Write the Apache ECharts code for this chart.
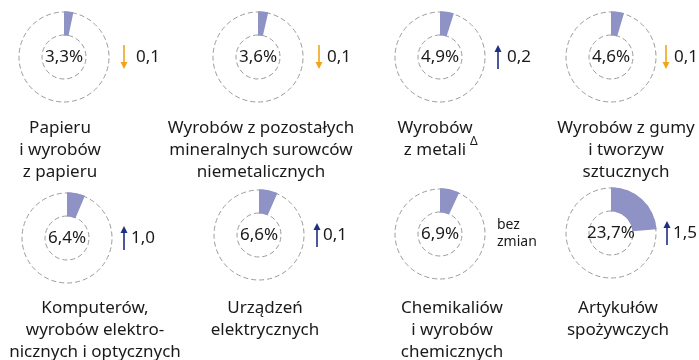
<!DOCTYPE html>
<html>
<head>
<meta charset="utf-8">
<script src="https://cdn.jsdelivr.net/npm/echarts@6/dist/echarts.min.js"></script>
<style>
  html, body { margin: 0; padding: 0; background: #ffffff; }
  #chart { width: 699px; height: 360px; }
</style>
</head>
<body>
<div id="chart"></div>
<script>
// Industry groups and their share (%) with the change in percentage points
const categories = [
  'Papieru\ni wyrobów\nz papieru',
  'Wyrobów z pozostałych\nmineralnych surowców\nniemetalicznych',
  'Wyrobów\nz metali',
  'Wyrobów z gumy\ni tworzyw\nsztucznych',
  'Komputerów,\nwyrobów elektro-\nnicznych i optycznych',
  'Urządzeń\nelektrycznych',
  'Chemikaliów\ni wyrobów\nchemicznych',
  'Artykułów\nspożywczych'
];
const shares = [3.3, 3.6, 4.9, 4.6, 6.4, 6.6, 6.9, 23.7];
const changes = [-0.1, -0.1, 0.2, -0.1, 1.0, 0.1, 0, 1.5];
const footnotes = ['', '', 'Δ', '', '', '', '', ''];
const noChangeText = 'bez\nzmian';

// Layout of the small multiples (pixels)
const donutCenters = [[64, 57], [258, 57], [440, 57], [611, 57], [67, 238], [259, 235], [440, 234], [611, 233]];
const captionX = [60, 261, 435, 626, 95, 265, 452, 618];
const captionTop = [117, 117, 117, 117, 297, 297, 297, 297];
const arrowX = [124, 319, 498, 666, 124, 317, 497, 667];
const changeTextX = [136, 327, 507, 674, 131, 323, 497, 673];

const FONT = '"Noto Sans", "Open Sans", sans-serif';
const TEXT = '#1a1a1a';
const SECTOR = '#8e92c4';
const RING = '#9c9c9c';
const UP = '#1d2f80';
const DOWN = '#f2a516';
const RING_RADIUS = [22, 45];
// the sector slightly overlaps the dashed outlines so its edges stay clean
const SECTOR_RADIUS = [21.5, 45.8];

const fmt = (v) => v.toFixed(1).replace('.', ',');

const series = [];
const graphics = [];

shares.forEach((v, i) => {
  const c = donutCenters[i];
  // dashed outline of the ring (outer and inner circle), kept beneath the sector
  series.push({
    type: 'pie', silent: true, z: 1, center: c, radius: RING_RADIUS, startAngle: 90,
    label: { show: false }, labelLine: { show: false },
    emphasis: { disabled: true },
    data: [{ value: 1, itemStyle: { color: 'rgba(0,0,0,0)', borderColor: RING, borderWidth: 1, borderType: [5, 3] } }]
  });
  // share sector starting at 12 o'clock
  series.push({
    type: 'pie', silent: true, z: 5, center: c, radius: SECTOR_RADIUS, startAngle: 90, clockwise: true,
    avoidLabelOverlap: false, labelLine: { show: false },
    emphasis: { disabled: true },
    itemStyle: { borderWidth: 0 },
    data: [
      { value: v, itemStyle: { color: SECTOR, borderWidth: 0 },
        label: { show: true, position: 'center', formatter: fmt(v) + '%', fontSize: 17, fontFamily: FONT, color: TEXT } },
      { value: 100 - v, itemStyle: { color: 'rgba(0,0,0,0)', borderWidth: 0 }, label: { show: false } }
    ]
  });

  // caption under the donut
  graphics.push({
    type: 'text', x: captionX[i], y: captionTop[i], silent: true,
    style: { text: categories[i], font: '17px ' + FONT, fill: TEXT, align: 'center', verticalAlign: 'top', lineHeight: 22 }
  });
  if (footnotes[i]) {
    graphics.push({
      type: 'text', x: captionX[i] + 35, y: captionTop[i] + 19, silent: true,
      style: { text: footnotes[i], font: '12px ' + FONT, fill: TEXT, align: 'left', verticalAlign: 'top' }
    });
  }

  // change indicator
  const d = changes[i];
  const cy = c[1];
  if (d === 0) {
    graphics.push({
      type: 'text', x: changeTextX[i], y: cy, silent: true,
      style: { text: noChangeText, font: '14px ' + FONT, fill: TEXT, align: 'left', verticalAlign: 'middle', lineHeight: 17 }
    });
  } else {
    const x = arrowX[i];
    const up = d > 0;
    const col = up ? UP : DOWN;
    const top = cy - 12, bottom = cy + 12;
    graphics.push({
      type: 'line', silent: true,
      shape: up ? { x1: x, y1: top + 6, x2: x, y2: bottom } : { x1: x, y1: top, x2: x, y2: bottom - 6 },
      style: { stroke: col, lineWidth: 1.6 }
    });
    graphics.push({
      type: 'polygon', silent: true,
      shape: { points: up ? [[x - 3.5, top + 7], [x + 3.5, top + 7], [x, top]] : [[x - 3.5, bottom - 7], [x + 3.5, bottom - 7], [x, bottom]] },
      style: { fill: col }
    });
    graphics.push({
      type: 'text', x: changeTextX[i], y: cy, silent: true,
      style: { text: fmt(Math.abs(d)), font: '17px ' + FONT, fill: TEXT, align: 'left', verticalAlign: 'middle' }
    });
  }
});

const chart = echarts.init(document.getElementById('chart'), null, { renderer: 'canvas' });
chart.setOption({
  animation: false,
  backgroundColor: '#ffffff',
  series: series,
  graphic: graphics
});
</script>
</body>
</html>
